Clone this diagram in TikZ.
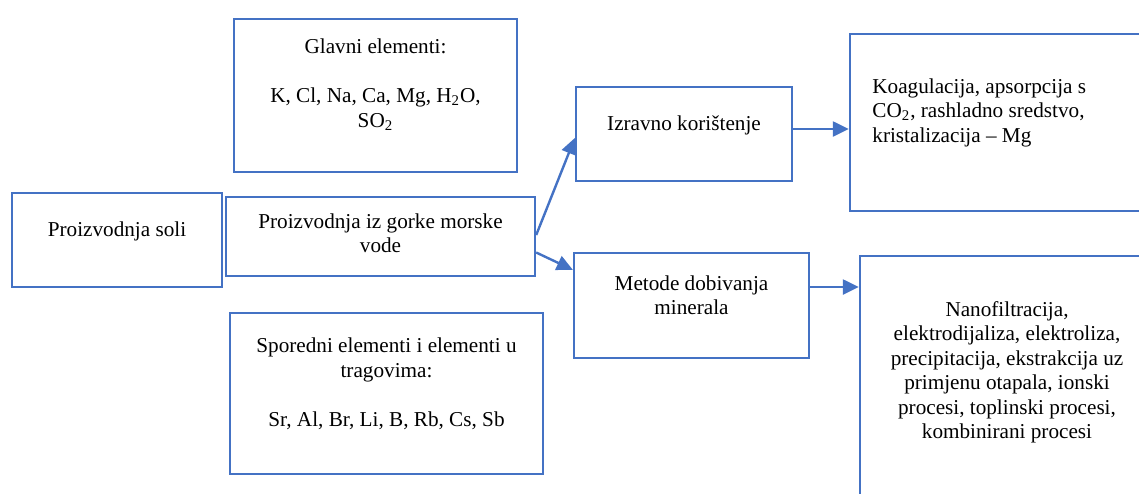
\documentclass[tikz,border=0pt]{standalone}
\usepackage{fontspec}
\setmainfont{Liberation Serif}
\usetikzlibrary{arrows.meta}
\definecolor{wordblue}{HTML}{4472C4}
\tikzset{
  box/.style={draw=wordblue, line width=1.2pt, inner sep=0pt},
  txt/.style={font=\fontsize{10.6pt}{12.25pt}\selectfont, inner sep=0pt, align=center, anchor=base},
  arr/.style={draw=wordblue, line width=1.2pt, -{Triangle[length=8pt,width=7.5pt]}},
}
\begin{document}
\begin{tikzpicture}[x=0.5pt,y=-0.5pt]
\useasboundingbox (0,0) rectangle (1139,493);
\clip (0,0) rectangle (1139,493);
% boxes
\node[box, minimum width=141.5pt, minimum height=76.5pt] (glavni) at (375.5,95.5) {};
\node[box, minimum width=105pt, minimum height=47pt] (soli) at (117,240) {};
\node[box, minimum width=154.5pt, minimum height=39.5pt] (gorke) at (380.5,236.5) {};
\node[box, minimum width=156.5pt, minimum height=80.5pt] (spored) at (386.5,393.5) {};
\node[box, minimum width=108pt, minimum height=47pt] (izr) at (684,134) {};
\node[box, minimum width=117.5pt, minimum height=52.5pt] (met) at (691.5,305.5) {};
\node[box, minimum width=155pt, minimum height=88.5pt] (koag) at (1005,122.5) {};
\node[box, minimum width=150pt, minimum height=137pt] (nano) at (1010,393) {};
% texts (anchor base = baseline of the last line)
\node[txt] (tglavni) at (375.5,127) {Glavni elementi:\\[12.25pt]K, Cl, Na, Ca, Mg, H\textsubscript{2}O,\\SO\textsubscript{2}};
\node[txt] (tsoli) at (117,236) {Proizvodnja soli};
\node[txt] (tgorke) at (380.5,252.5) {Proizvodnja iz gorke morske\\vode};
\node[txt] (tspored) at (386.5,426) {Sporedni elementi i elementi u\\tragovima:\\[12.25pt]Sr, Al, Br, Li, B, Rb, Cs, Sb};
\node[txt] (tizr) at (684,130) {Izravno korištenje};
\node[txt] (tmet) at (691.5,314.5) {Metode dobivanja\\minerala};
\node[txt, align=left, anchor=base west] (tkoag) at (872,142) {Koagulacija, apsorpcija s\\CO\textsubscript{2}, rashladno sredstvo,\\kristalizacija \textendash{} Mg};
\node[txt] (tnano) at (1007,438.5) {Nanofiltracija,\\elektrodijaliza, elektroliza,\\precipitacija, ekstrakcija uz\\primjenu otapala, ionski\\procesi, toplinski procesi,\\kombinirani procesi};
% connectors
\draw[arr] ([yshift=0.75pt]gorke.east) -- ([yshift=-2pt]izr.west);
\draw[arr] ([yshift=-8pt]gorke.east) -- ([yshift=-9pt]met.north west);
\coordinate (a3) at ([yshift=2.5pt]izr.east);
\draw[arr] (a3) -- (a3 -| koag.west);
\coordinate (a4) at ([yshift=9.25pt]met.east);
\draw[arr] (a4) -- (a4 -| nano.west);
\end{tikzpicture}
\end{document}
